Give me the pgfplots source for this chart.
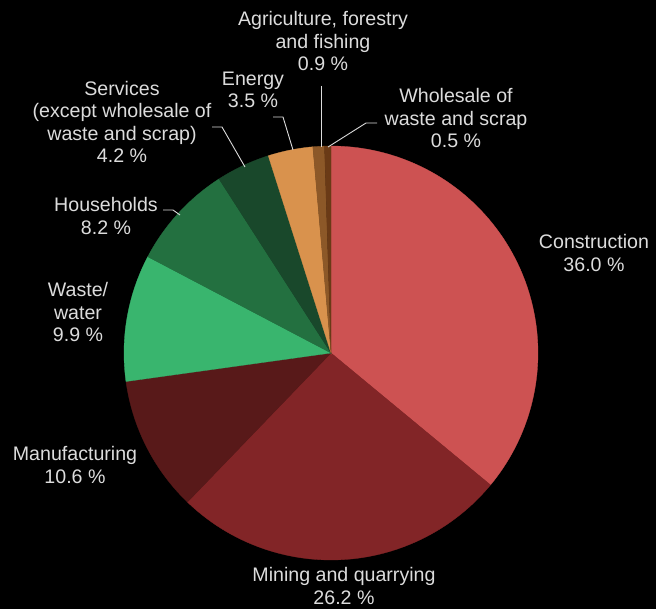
\documentclass[border=0pt]{standalone}
\usepackage{pgfplots}
\pgfplotsset{compat=1.18}
\usepackage{fontspec}
\setmainfont{Liberation Sans}
\definecolor{cCons}{HTML}{CD5252}
\definecolor{cMin}{HTML}{822527}
\definecolor{cMan}{HTML}{581919}
\definecolor{cWaste}{HTML}{39B56E}
\definecolor{cHouse}{HTML}{237040}
\definecolor{cServ}{HTML}{19482B}
\definecolor{cEnergy}{HTML}{D9924D}
\definecolor{cAgri}{HTML}{8C5828}
\definecolor{cWhole}{HTML}{6A3A16}
\definecolor{lbl}{HTML}{DCDCDC}
% pie centre and radius (pixel units)
\def\cx{331}\def\cy{353}\def\rr{207}
\xdef\cum{0}
\newcommand\slice[2]{%
  \pgfmathsetmacro\sa{\cum*3.6}%
  \pgfmathsetmacro\sb{(\cum+#1)*3.6}%
  \pgfmathsetmacro\tmp{\cum+#1}\xdef\cum{\tmp}%
  \edef\doplot{\noexpand\addplot[fill=#2,draw=#2,line width=0.3pt,domain=\sa:\sb,samples=90]
    ({\cx+\rr*sin(x)},{\cy-\rr*cos(x)}) -- (axis cs:\cx,\cy) -- cycle;}%
  \doplot}
\begin{document}
\begin{tikzpicture}
\begin{axis}[scale only axis, width=656pt, height=609pt,
  xmin=0, xmax=656, ymin=0, ymax=609, y dir=reverse,
  hide axis, clip=false]
\fill[black] (rel axis cs:0,0) rectangle (rel axis cs:1,1);
% values in percent, clockwise from 12 o'clock
\slice{36.0}{cCons}
\slice{26.2}{cMin}
\slice{10.6}{cMan}
\slice{9.9}{cWaste}
\slice{8.2}{cHouse}
\slice{4.2}{cServ}
\slice{3.5}{cEnergy}
\slice{0.9}{cAgri}
\slice{0.5}{cWhole}
% leader lines
\draw[lbl, line width=0.9pt] (axis cs:377,123) -- (axis cs:366,123) -- (axis cs:328,147);
\draw[lbl, line width=0.9pt] (axis cs:321,86) -- (axis cs:321,147);
\draw[lbl, line width=0.9pt] (axis cs:273,117) -- (axis cs:283,117) -- (axis cs:293,150);
\draw[lbl, line width=0.9pt] (axis cs:212,127) -- (axis cs:222,127) -- (axis cs:245,167);
\draw[lbl, line width=0.9pt] (axis cs:163,210) -- (axis cs:173,210) -- (axis cs:180,215);
% labels
\tikzset{lab/.style={align=center, text=lbl, inner sep=0pt, font=\fontsize{19.6}{22.5}\selectfont}}
\node[lab] at (axis cs:594,253) {Construction\\36.0~\%};
\node[lab] at (axis cs:344,586) {Mining and quarrying\\26.2~\%};
\node[lab] at (axis cs:75,465) {Manufacturing\\10.6~\%};
\node[lab] at (axis cs:78,312) {Waste/\\water\\9.9~\%};
\node[lab] at (axis cs:106,216) {Households\\8.2~\%};
\node[lab] at (axis cs:122,122) {Services\\(except wholesale of\\waste and scrap)\\4.2~\%};
\node[lab] at (axis cs:253,90) {Energy\\3.5~\%};
\node[lab] at (axis cs:323,41) {Agriculture, forestry\\and fishing\\0.9~\%};
\node[lab] at (axis cs:456,118) {Wholesale of\\waste and scrap\\0.5~\%};
\end{axis}
\end{tikzpicture}
\end{document}
